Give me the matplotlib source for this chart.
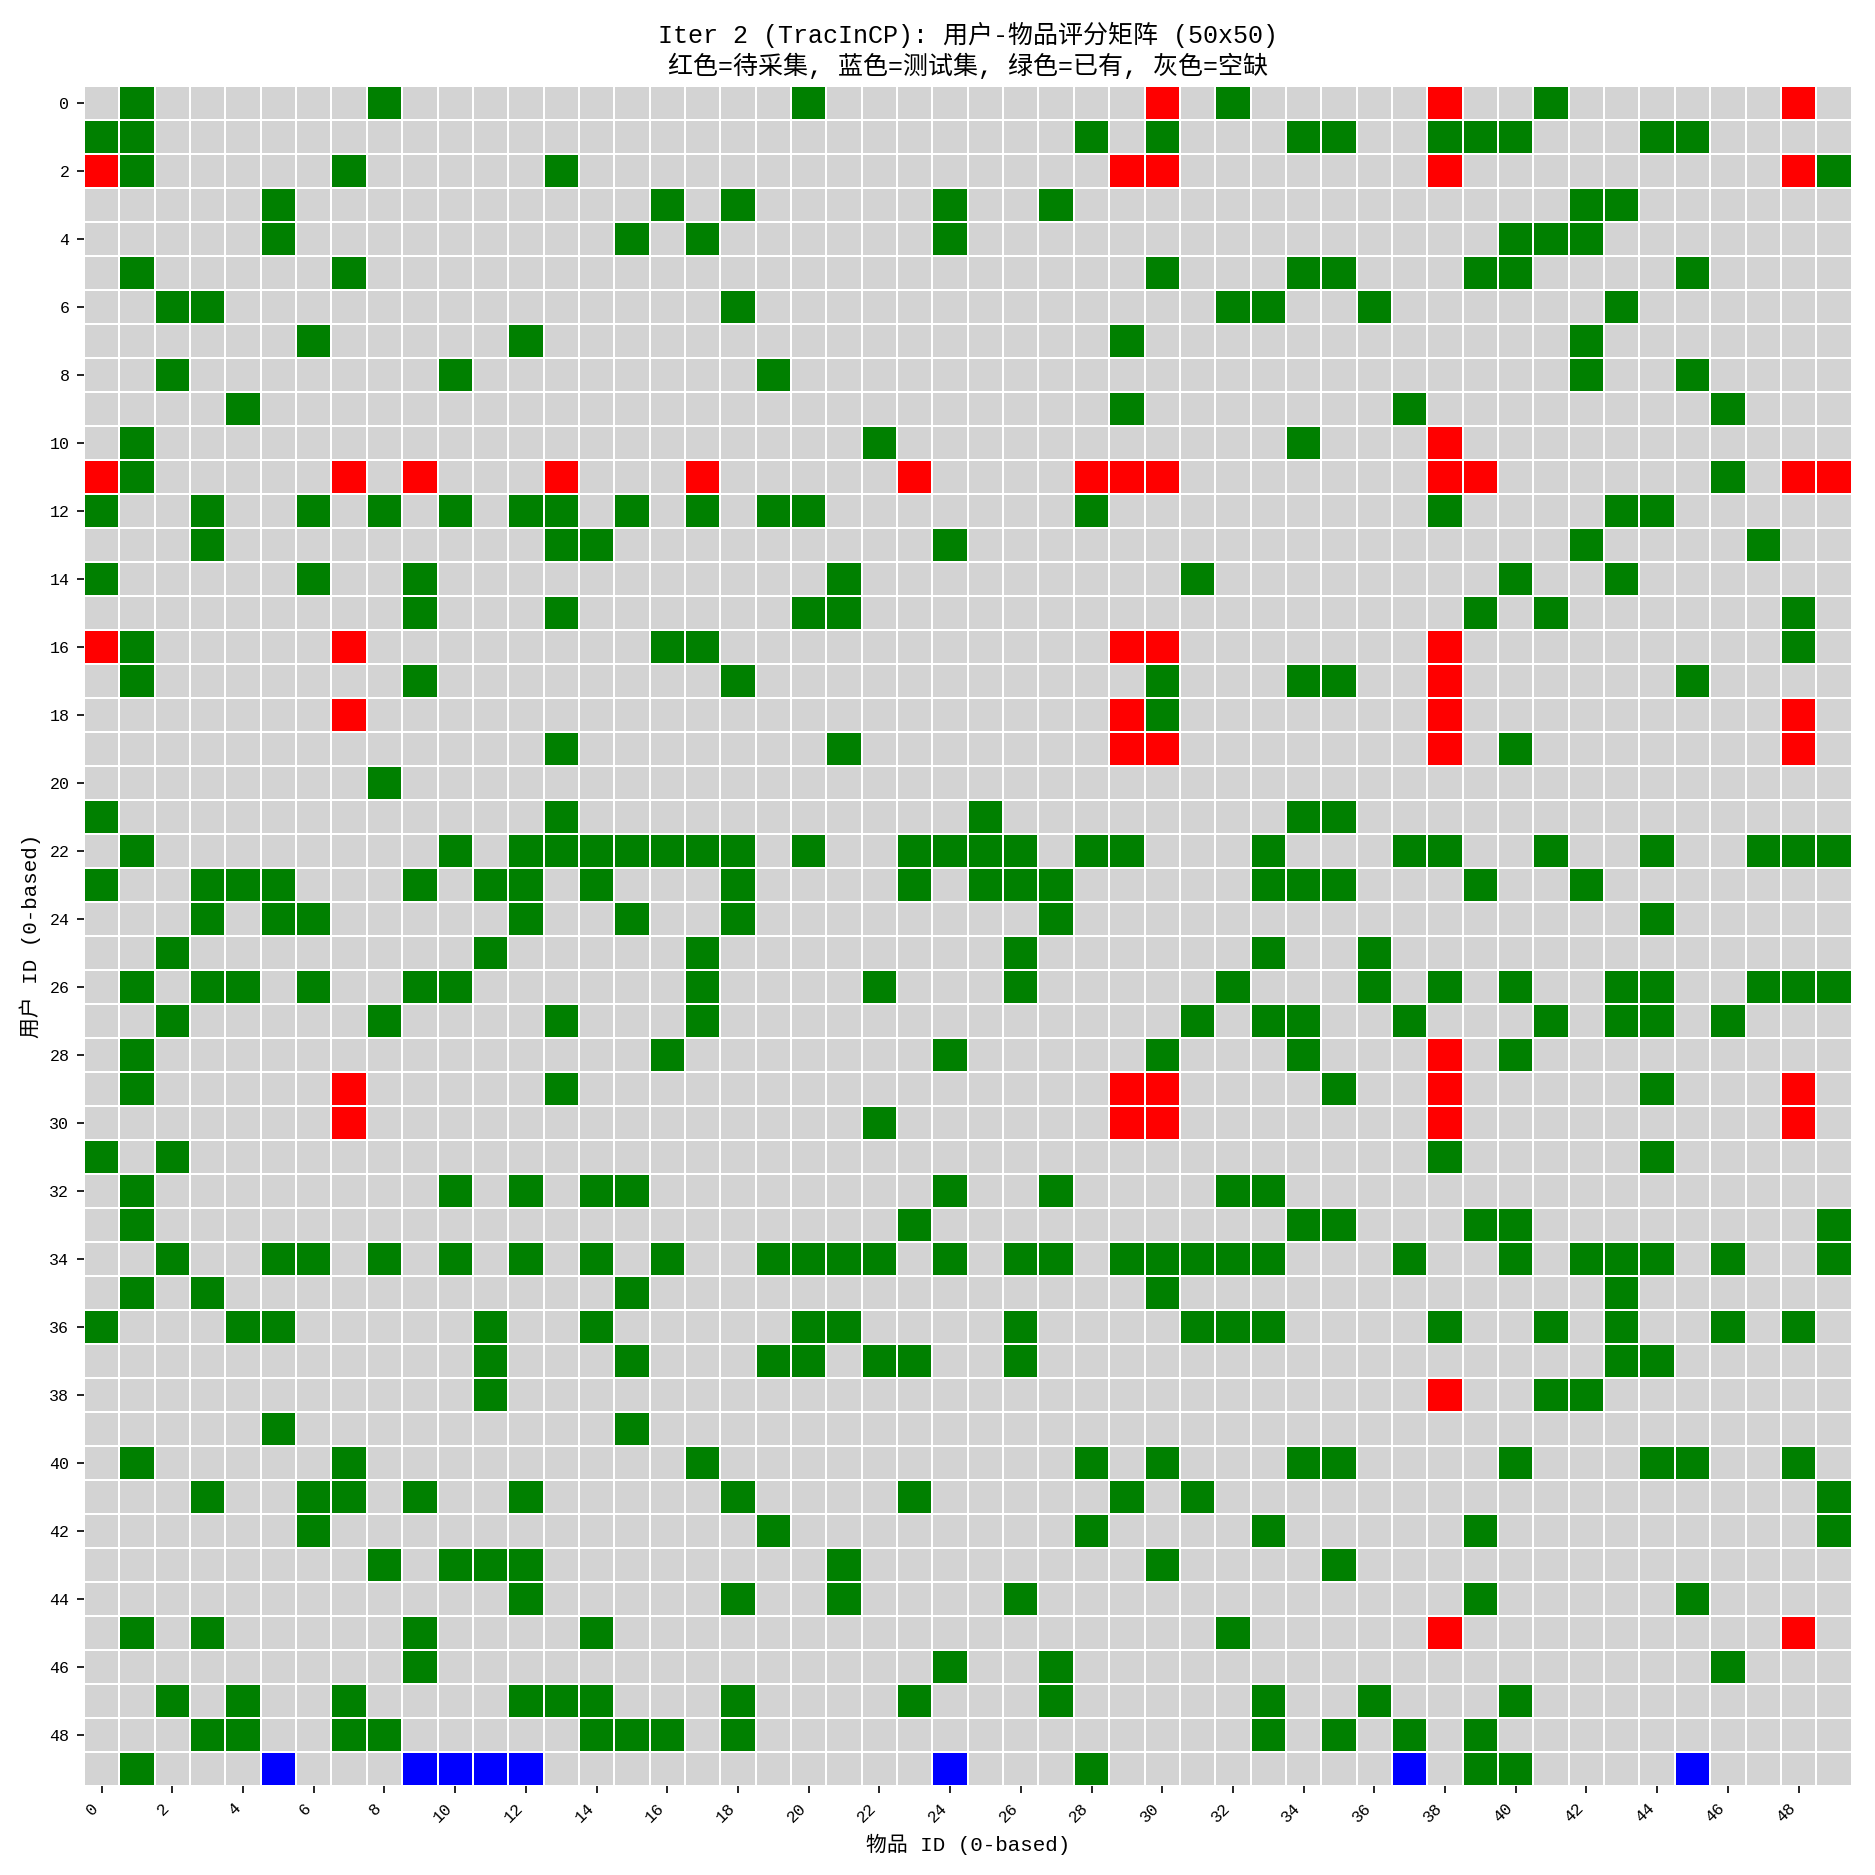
import matplotlib
matplotlib.use("Agg")
import matplotlib.pyplot as plt
import numpy as np
from matplotlib.colors import ListedColormap

plt.rcParams['font.family'] = ['Liberation Mono', 'Noto Sans CJK SC']

n_users = 50
n_items = 50

# 已有评分 (green), 每行一个列表
green_cells = [
    [1, 8, 20, 32, 41],
    [0, 1, 28, 30, 34, 35, 38, 39, 40, 44, 45],
    [1, 7, 13, 49],
    [5, 16, 18, 24, 27, 42, 43],
    [5, 15, 17, 24, 40, 41, 42],
    [1, 7, 30, 34, 35, 39, 40, 45],
    [2, 3, 18, 32, 33, 36, 43],
    [6, 12, 29, 42],
    [2, 10, 19, 42, 45],
    [4, 29, 37, 46],
    [1, 22, 34],
    [1, 46],
    [0, 3, 6, 8, 10, 12, 13, 15, 17, 19, 20, 28, 38, 43, 44],
    [3, 13, 14, 24, 42, 47],
    [0, 6, 9, 21, 31, 40, 43],
    [9, 13, 20, 21, 39, 41, 48],
    [1, 16, 17, 48],
    [1, 9, 18, 30, 34, 35, 45],
    [30],
    [13, 21, 40],
    [8],
    [0, 13, 25, 34, 35],
    [1, 10, 12, 13, 14, 15, 16, 17, 18, 20, 23, 24, 25, 26, 28, 29, 33, 37, 38, 41, 44, 47, 48, 49],
    [0, 3, 4, 5, 9, 11, 12, 14, 18, 23, 25, 26, 27, 33, 34, 35, 39, 42],
    [3, 5, 6, 12, 15, 18, 27, 44],
    [2, 11, 17, 26, 33, 36],
    [1, 3, 4, 6, 9, 10, 17, 22, 26, 32, 36, 38, 40, 43, 44, 47, 48, 49],
    [2, 8, 13, 17, 31, 33, 34, 37, 41, 43, 44, 46],
    [1, 16, 24, 30, 34, 40],
    [1, 13, 35, 44],
    [22],
    [0, 2, 38, 44],
    [1, 10, 12, 14, 15, 24, 27, 32, 33],
    [1, 23, 34, 35, 39, 40, 49],
    [2, 5, 6, 8, 10, 12, 14, 16, 19, 20, 21, 22, 24, 26, 27, 29, 30, 31, 32, 33, 37, 40, 42, 43, 44, 46, 49],
    [1, 3, 15, 30, 43],
    [0, 4, 5, 11, 14, 20, 21, 26, 31, 32, 33, 38, 41, 43, 46, 48],
    [11, 15, 19, 20, 22, 23, 26, 43, 44],
    [11, 41, 42],
    [5, 15],
    [1, 7, 17, 28, 30, 34, 35, 40, 44, 45, 48],
    [3, 6, 7, 9, 12, 18, 23, 29, 31, 49],
    [6, 19, 28, 33, 39, 49],
    [8, 10, 11, 12, 21, 30, 35],
    [12, 18, 21, 26, 39, 45],
    [1, 3, 9, 14, 32],
    [9, 24, 27, 46],
    [2, 4, 7, 12, 13, 14, 18, 23, 27, 33, 36, 40],
    [3, 4, 7, 8, 14, 15, 16, 18, 33, 35, 37, 39],
    [1, 28, 39, 40],
]

# 待采集 (red): 行 -> 列
red_cells = {
    0: [30, 38, 48],
    2: [0, 29, 30, 38, 48],
    10: [38],
    11: [0, 7, 9, 13, 17, 23, 28, 29, 30, 38, 39, 48, 49],
    16: [0, 7, 29, 30, 38],
    17: [38],
    18: [7, 29, 38, 48],
    19: [29, 30, 38, 48],
    28: [38],
    29: [7, 29, 30, 38, 48],
    30: [7, 29, 30, 38, 48],
    38: [38],
    45: [38, 48],
}

# 测试集 (blue)
blue_cells = {
    49: [5, 9, 10, 11, 12, 24, 37, 45],
}

# 0 = 空缺, 1 = 已有, 2 = 待采集, 3 = 测试集
mat = np.zeros((n_users, n_items))
for u, cols in enumerate(green_cells):
    mat[u, cols] = 1
for u, cols in red_cells.items():
    mat[u, cols] = 2
for u, cols in blue_cells.items():
    mat[u, cols] = 3

cmap = ListedColormap(['lightgray', 'green', 'red', 'blue'])

fig = plt.figure(figsize=(12.5, 12.5), dpi=150)
ax = fig.add_axes([0.0448, 0.0475, 0.9427, 0.9066])
ax.pcolormesh(mat, cmap=cmap, vmin=-0.5, vmax=3.5, edgecolors='white', linewidth=0.8)
ax.set_xlim(0, n_items)
ax.set_ylim(n_users, 0)
for s in ax.spines.values():
    s.set_visible(False)

ticks = np.arange(0, 50, 2)
ax.set_xticks(ticks + 0.5)
ax.set_xticklabels([str(t) for t in ticks], rotation=45, ha='right', fontsize=8)
ax.set_yticks(ticks + 0.5)
ax.set_yticklabels([str(t) for t in ticks], rotation=0, fontsize=8)

ax.set_title("Iter 2 (TracInCP): 用户-物品评分矩阵 (50x50)\n红色=待采集, 蓝色=测试集, 绿色=已有, 灰色=空缺",
             fontsize=12)
ax.set_xlabel("物品 ID (0-based)", fontsize=10)
ax.set_ylabel("用户 ID (0-based)", fontsize=10)

fig.savefig("out.png", dpi=150)
